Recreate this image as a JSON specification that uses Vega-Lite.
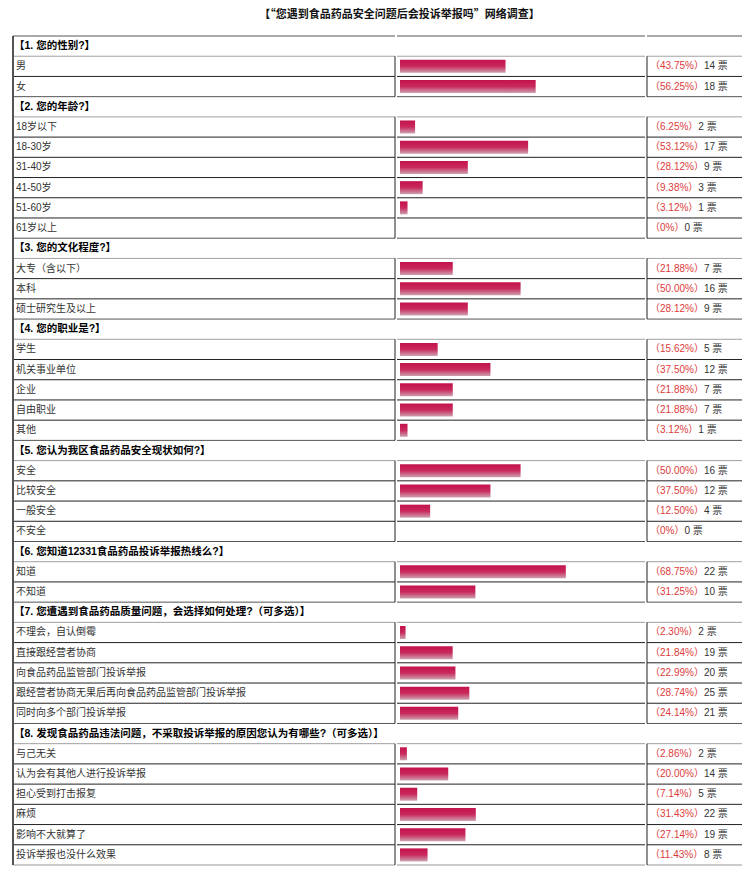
{
  "$schema": "https://vega.github.io/schema/vega-lite/v6.json",
  "background": "white",
  "padding": {"left": 12, "top": 8, "right": 5, "bottom": 5},
  "title": {"text": "【“您遇到食品药品安全问题后会投诉举报吗”网络调查】", "font": "Noto Sans CJK SC", "fontSize": 11, "fontWeight": "bold", "color": "#111", "anchor": "middle", "offset": 16, "dx": 22},
  "data": {"values": [
    {"row": 0, "q": 1, "kind": "header", "label": "【1. 您的性别?】"},
    {"row": 1, "q": 1, "kind": "item", "label": "男", "pct": 43.75, "pctText": "（43.75%）", "votes": 14},
    {"row": 2, "q": 1, "kind": "item", "label": "女", "pct": 56.25, "pctText": "（56.25%）", "votes": 18},
    {"row": 3, "q": 2, "kind": "header", "label": "【2. 您的年龄?】"},
    {"row": 4, "q": 2, "kind": "item", "label": "18岁以下", "pct": 6.25, "pctText": "（6.25%）", "votes": 2},
    {"row": 5, "q": 2, "kind": "item", "label": "18-30岁", "pct": 53.12, "pctText": "（53.12%）", "votes": 17},
    {"row": 6, "q": 2, "kind": "item", "label": "31-40岁", "pct": 28.12, "pctText": "（28.12%）", "votes": 9},
    {"row": 7, "q": 2, "kind": "item", "label": "41-50岁", "pct": 9.38, "pctText": "（9.38%）", "votes": 3},
    {"row": 8, "q": 2, "kind": "item", "label": "51-60岁", "pct": 3.12, "pctText": "（3.12%）", "votes": 1},
    {"row": 9, "q": 2, "kind": "item", "label": "61岁以上", "pct": 0, "pctText": "（0%）", "votes": 0},
    {"row": 10, "q": 3, "kind": "header", "label": "【3. 您的文化程度?】"},
    {"row": 11, "q": 3, "kind": "item", "label": "大专（含以下）", "pct": 21.88, "pctText": "（21.88%）", "votes": 7},
    {"row": 12, "q": 3, "kind": "item", "label": "本科", "pct": 50.0, "pctText": "（50.00%）", "votes": 16},
    {"row": 13, "q": 3, "kind": "item", "label": "硕士研究生及以上", "pct": 28.12, "pctText": "（28.12%）", "votes": 9},
    {"row": 14, "q": 4, "kind": "header", "label": "【4. 您的职业是?】"},
    {"row": 15, "q": 4, "kind": "item", "label": "学生", "pct": 15.62, "pctText": "（15.62%）", "votes": 5},
    {"row": 16, "q": 4, "kind": "item", "label": "机关事业单位", "pct": 37.5, "pctText": "（37.50%）", "votes": 12},
    {"row": 17, "q": 4, "kind": "item", "label": "企业", "pct": 21.88, "pctText": "（21.88%）", "votes": 7},
    {"row": 18, "q": 4, "kind": "item", "label": "自由职业", "pct": 21.88, "pctText": "（21.88%）", "votes": 7},
    {"row": 19, "q": 4, "kind": "item", "label": "其他", "pct": 3.12, "pctText": "（3.12%）", "votes": 1},
    {"row": 20, "q": 5, "kind": "header", "label": "【5. 您认为我区食品药品安全现状如何?】"},
    {"row": 21, "q": 5, "kind": "item", "label": "安全", "pct": 50.0, "pctText": "（50.00%）", "votes": 16},
    {"row": 22, "q": 5, "kind": "item", "label": "比较安全", "pct": 37.5, "pctText": "（37.50%）", "votes": 12},
    {"row": 23, "q": 5, "kind": "item", "label": "一般安全", "pct": 12.5, "pctText": "（12.50%）", "votes": 4},
    {"row": 24, "q": 5, "kind": "item", "label": "不安全", "pct": 0, "pctText": "（0%）", "votes": 0},
    {"row": 25, "q": 6, "kind": "header", "label": "【6. 您知道12331食品药品投诉举报热线么?】"},
    {"row": 26, "q": 6, "kind": "item", "label": "知道", "pct": 68.75, "pctText": "（68.75%）", "votes": 22},
    {"row": 27, "q": 6, "kind": "item", "label": "不知道", "pct": 31.25, "pctText": "（31.25%）", "votes": 10},
    {"row": 28, "q": 7, "kind": "header", "label": "【7. 您遭遇到食品药品质量问题，会选择如何处理?（可多选）】"},
    {"row": 29, "q": 7, "kind": "item", "label": "不理会，自认倒霉", "pct": 2.3, "pctText": "（2.30%）", "votes": 2},
    {"row": 30, "q": 7, "kind": "item", "label": "直接跟经营者协商", "pct": 21.84, "pctText": "（21.84%）", "votes": 19},
    {"row": 31, "q": 7, "kind": "item", "label": "向食品药品监管部门投诉举报", "pct": 22.99, "pctText": "（22.99%）", "votes": 20},
    {"row": 32, "q": 7, "kind": "item", "label": "跟经营者协商无果后再向食品药品监管部门投诉举报", "pct": 28.74, "pctText": "（28.74%）", "votes": 25},
    {"row": 33, "q": 7, "kind": "item", "label": "同时向多个部门投诉举报", "pct": 24.14, "pctText": "（24.14%）", "votes": 21},
    {"row": 34, "q": 8, "kind": "header", "label": "【8. 发现食品药品违法问题，不采取投诉举报的原因您认为有哪些?（可多选）】"},
    {"row": 35, "q": 8, "kind": "item", "label": "与己无关", "pct": 2.86, "pctText": "（2.86%）", "votes": 2},
    {"row": 36, "q": 8, "kind": "item", "label": "认为会有其他人进行投诉举报", "pct": 20.0, "pctText": "（20.00%）", "votes": 14},
    {"row": 37, "q": 8, "kind": "item", "label": "担心受到打击报复", "pct": 7.14, "pctText": "（7.14%）", "votes": 5},
    {"row": 38, "q": 8, "kind": "item", "label": "麻烦", "pct": 31.43, "pctText": "（31.43%）", "votes": 22},
    {"row": 39, "q": 8, "kind": "item", "label": "影响不大就算了", "pct": 27.14, "pctText": "（27.14%）", "votes": 19},
    {"row": 40, "q": 8, "kind": "item", "label": "投诉举报也没什么效果", "pct": 11.43, "pctText": "（11.43%）", "votes": 8}
  ]},
  "spacing": 0,
  "hconcat": [
    {
      "width": 382, "height": 829,
      "layer": [
        {
          "transform": [{"window": [{"op": "row_number", "as": "rn"}], "groupby": ["q"], "sort": [{"field": "row"}]}],
          "mark": {"type": "rule", "strokeWidth": 1},
          "encoding": {
            "y": {"field": "row", "type": "ordinal", "bandPosition": 0, "scale": {"paddingInner": 0, "paddingOuter": 0}, "axis": null},
            "color": {"condition": [{"test": "datum.rn == 1", "value": "#555555"}, {"test": "datum.rn == 2", "value": "#a0a0a0"}], "value": "#222222"}
          }
        },
        {
          "transform": [{"filter": "datum.row == 40"}],
          "mark": {"type": "rule", "color": "#999999"},
          "encoding": {"y": {"field": "row", "type": "ordinal", "bandPosition": 1, "axis": null}}
        },
        {
          "mark": {"type": "rule", "color": "#555555"},
          "encoding": {"x": {"datum": 0, "type": "quantitative", "scale": {"domain": [0, 1]}, "axis": null}}
        },
        {
          "transform": [{"filter": "datum.kind == 'item'"}],
          "mark": {"type": "tick", "color": "#222222", "thickness": 1, "size": 20.3, "opacity": 1},
          "encoding": {
            "x": {"datum": 1, "type": "quantitative", "axis": null},
            "y": {"field": "row", "type": "ordinal", "axis": null}
          }
        },
        {
          "transform": [{"filter": "datum.kind == 'header'"}],
          "mark": {"type": "text", "align": "left", "baseline": "middle", "font": "Liberation Sans, Noto Sans CJK SC", "fontSize": 10.5, "fontWeight": "bold", "color": "#000000", "dx": 1},
          "encoding": {
            "x": {"datum": 0, "type": "quantitative", "axis": null},
            "y": {"field": "row", "type": "ordinal", "axis": null},
            "text": {"field": "label"}
          }
        },
        {
          "transform": [{"filter": "datum.kind == 'item'"}],
          "mark": {"type": "text", "align": "left", "baseline": "middle", "font": "Liberation Sans, Noto Sans CJK SC", "fontSize": 10, "color": "#333333", "dx": 3},
          "encoding": {
            "x": {"datum": 0, "type": "quantitative", "axis": null},
            "y": {"field": "row", "type": "ordinal", "axis": null},
            "text": {"field": "label"}
          }
        }
      ]
    },
    {
      "width": 248, "height": 829,
      "layer": [
        {
          "transform": [{"window": [{"op": "row_number", "as": "rn"}], "groupby": ["q"], "sort": [{"field": "row"}]}],
          "mark": {"type": "rule", "strokeWidth": 1},
          "encoding": {
            "y": {"field": "row", "type": "ordinal", "bandPosition": 0, "scale": {"paddingInner": 0, "paddingOuter": 0}, "axis": null},
            "color": {"condition": [{"test": "datum.rn == 1", "value": "#555555"}, {"test": "datum.rn == 2", "value": "#a0a0a0"}], "value": "#222222"}
          }
        },
        {
          "transform": [{"filter": "datum.row == 40"}],
          "mark": {"type": "rule", "color": "#999999"},
          "encoding": {"y": {"field": "row", "type": "ordinal", "bandPosition": 1, "axis": null}}
        },
        {
          "transform": [{"filter": "datum.kind == 'item'"}],
          "mark": {"type": "bar", "height": 13, "color": {"gradient": "linear", "x1": 0, "y1": 0, "x2": 0, "y2": 1, "stops": [{"offset": 0, "color": "#c3124c"}, {"offset": 0.5, "color": "#c92a5c"}, {"offset": 1, "color": "#cda2b0"}]}},
          "encoding": {
            "x": {"field": "pct", "type": "quantitative", "scale": {"domain": [-1.244, 101.58]}, "axis": null},
            "y": {"field": "row", "type": "ordinal", "axis": null}
          }
        }
      ]
    },
    {
      "width": 95, "height": 829,
      "layer": [
        {
          "transform": [{"window": [{"op": "row_number", "as": "rn"}], "groupby": ["q"], "sort": [{"field": "row"}]}],
          "mark": {"type": "rule", "strokeWidth": 1},
          "encoding": {
            "y": {"field": "row", "type": "ordinal", "bandPosition": 0, "scale": {"paddingInner": 0, "paddingOuter": 0}, "axis": null},
            "color": {"condition": [{"test": "datum.rn == 1", "value": "#555555"}, {"test": "datum.rn == 2", "value": "#a0a0a0"}], "value": "#222222"}
          }
        },
        {
          "transform": [{"filter": "datum.row == 40"}],
          "mark": {"type": "rule", "color": "#999999"},
          "encoding": {"y": {"field": "row", "type": "ordinal", "bandPosition": 1, "axis": null}}
        },
        {
          "transform": [{"filter": "datum.kind == 'item'"}],
          "mark": {"type": "tick", "color": "#222222", "thickness": 1, "size": 20.3, "opacity": 1},
          "encoding": {
            "x": {"datum": 0, "type": "quantitative", "scale": {"domain": [0, 1]}, "axis": null},
            "y": {"field": "row", "type": "ordinal", "axis": null}
          }
        },
        {
          "transform": [{"filter": "datum.kind == 'item'"}],
          "mark": {"type": "text", "align": "left", "baseline": "middle", "font": "Liberation Sans, Noto Sans CJK SC", "fontSize": 10, "color": "#dd3b3b", "dx": 3},
          "encoding": {
            "x": {"datum": 0, "type": "quantitative", "axis": null},
            "y": {"field": "row", "type": "ordinal", "axis": null},
            "text": {"field": "pctText"}
          }
        },
        {
          "transform": [{"filter": "datum.kind == 'item'"}],
          "mark": {"type": "text", "align": "left", "baseline": "middle", "font": "Liberation Sans, Noto Sans CJK SC", "fontSize": 10, "color": "#333333",
            "dx": {"expr": "3 + 20 + 8.89 + 5.56 * (length(datum.pctText) - (indexof(datum.pctText, '.') >= 0 ? 4 : 3)) + (indexof(datum.pctText, '.') >= 0 ? 2.78 : 0)"},
            "text": {"expr": "datum.votes + ' 票'"}},
          "encoding": {
            "x": {"datum": 0, "type": "quantitative", "axis": null},
            "y": {"field": "row", "type": "ordinal", "axis": null}
          }
        }
      ]
    }
  ],
  "config": {"view": {"stroke": null}, "font": "Noto Sans CJK SC"}
}
